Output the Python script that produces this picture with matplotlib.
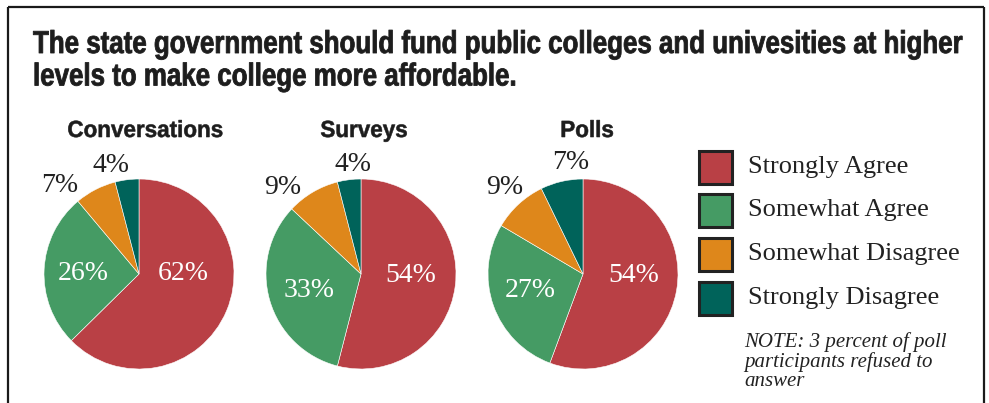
import matplotlib
matplotlib.use("Agg")
import matplotlib.pyplot as plt
from matplotlib.patches import Rectangle
from matplotlib.lines import Line2D
from matplotlib.textpath import TextPath
from matplotlib.font_manager import FontProperties
from matplotlib.patheffects import AbstractPathEffect
from matplotlib.transforms import Affine2D

# ---- data ----
categories = ["Strongly Agree", "Somewhat Agree", "Somewhat Disagree", "Strongly Disagree"]
groups = ["Conversations", "Surveys", "Polls"]
conversations = [62, 26, 7, 4]
surveys = [54, 33, 9, 4]
polls = [54, 27, 9, 7]
colors = ["#B94045", "#459B64", "#DE871B", "#00635A"]
title_lines = [
    "The state government should fund public colleges and univesities at higher",
    "levels to make college more affordable.",
]
note_lines = ["NOTE: 3 percent of poll", "participants refused to", "answer"]

# ---- layout (pixel coordinates, y pointing up) ----
W, H = 989, 403
DPI = 100
pie_centers_x = [139, 361, 583]
subtitle_x = [145, 364, 587]
pie_center_y = H - 274
pie_radius = 95
# label offsets in units of the pie radius
label_offsets = [
    [(0.47, 0.00), (-0.59, 0.00), (-0.83, 0.93), (-0.29, 1.14)],
    [(0.52, -0.02), (-0.55, -0.17), (-0.82, 0.91), (-0.08, 1.15)],
    [(0.53, -0.02), (-0.55, -0.17), (-0.82, 0.91), (-0.13, 1.17)],
]
inside_label = [True, True, False, False]

sans = ["Liberation Sans", "DejaVu Sans"]
serif = ["Liberation Serif", "DejaVu Serif"]
ink = "#1d1d1d"


class TallHeavy(AbstractPathEffect):
    """Stretch glyphs vertically about the baseline and thicken their strokes,
    giving a condensed heavy headline look."""

    def __init__(self, sy, stroke=0.0):
        super().__init__()
        self.sy = sy
        self.stroke = stroke

    def draw_path(self, renderer, gc, tpath, affine, rgbFace=None):
        trans = Affine2D().scale(1, self.sy) + affine
        gc0 = renderer.new_gc()
        gc0.copy_properties(gc)
        if self.stroke > 0 and rgbFace is not None:
            gc0.set_linewidth(self.stroke)
            gc0.set_foreground(rgbFace)
            gc0.set_joinstyle("round")
        renderer.draw_path(gc0, tpath, trans, rgbFace)
        gc0.restore()


def natural_width_px(text, family, size_pt, weight="bold"):
    fp = FontProperties(family=family, weight=weight)
    return TextPath((0, 0), text, size=size_pt, prop=fp).get_extents().width * DPI / 72


fig = plt.figure(figsize=(W / DPI, H / DPI), dpi=DPI)
ax = fig.add_axes([0, 0, 1, 1])

# frame (open at the bottom)
frame_kw = dict(color="#1a1a1a", lw=1.6, solid_capstyle="butt")
ax.add_line(Line2D([8, 8], [0, H - 7], **frame_kw))
ax.add_line(Line2D([8, 984], [H - 7, H - 7], **frame_kw))
ax.add_line(Line2D([984, 984], [0, H - 7], **frame_kw))

# title: both lines share the squeeze of the first one
title_size = 22.8
title_squeeze = 929 / natural_width_px(title_lines[0], sans, title_size)
for line, base in zip(title_lines, [53, 85.5]):
    ax.text(33, H - base, line, family=sans, weight="bold",
            fontsize=title_size * title_squeeze, color=ink, ha="left", va="baseline",
            path_effects=[TallHeavy(1 / title_squeeze, 0.6)])

# pies
sub_size = 16.8
sub_squeeze = 154 / natural_width_px(groups[0], sans, sub_size)
all_values = [conversations, surveys, polls]
for gi, (name, values) in enumerate(zip(groups, all_values)):
    cx = pie_centers_x[gi]
    ax.pie(values, colors=colors, startangle=90, counterclock=False,
           center=(cx, pie_center_y), radius=pie_radius, frame=True,
           wedgeprops=dict(edgecolor="white", linewidth=0.4))
    ax.text(subtitle_x[gi], H - 137, name, family=sans, weight="bold",
            fontsize=sub_size * sub_squeeze, color=ink, ha="center", va="baseline",
            path_effects=[TallHeavy(1 / sub_squeeze, 0.4)])
    for vi, v in enumerate(values):
        dx, dy = label_offsets[gi][vi]
        ax.text(cx + dx * pie_radius, pie_center_y + dy * pie_radius, f"{v}%",
                family=serif, fontsize=20,
                color="white" if inside_label[vi] else "#222222",
                ha="center", va="center")

ax.set_xlim(0, W)
ax.set_ylim(0, H)
ax.set_aspect("equal")
ax.axis("off")

# legend
box_x, box_size = 699, 33
row_centers = [167, 210, 254, 298]
for cat, col, yc in zip(categories, colors, row_centers):
    ax.add_patch(Rectangle((box_x, H - yc - box_size / 2), box_size, box_size,
                           facecolor=col, edgecolor="#222222", linewidth=2.2))
    ax.text(748, H - yc, cat, family=serif, fontsize=19, color="#222222",
            ha="left", va="center")

for line, yc in zip(note_lines, [342, 362, 382]):
    ax.text(744, H - yc, line, family=serif, style="italic", fontsize=15,
            color="#222222", ha="left", va="center")

fig.savefig("out.png", dpi=DPI, facecolor="white")
